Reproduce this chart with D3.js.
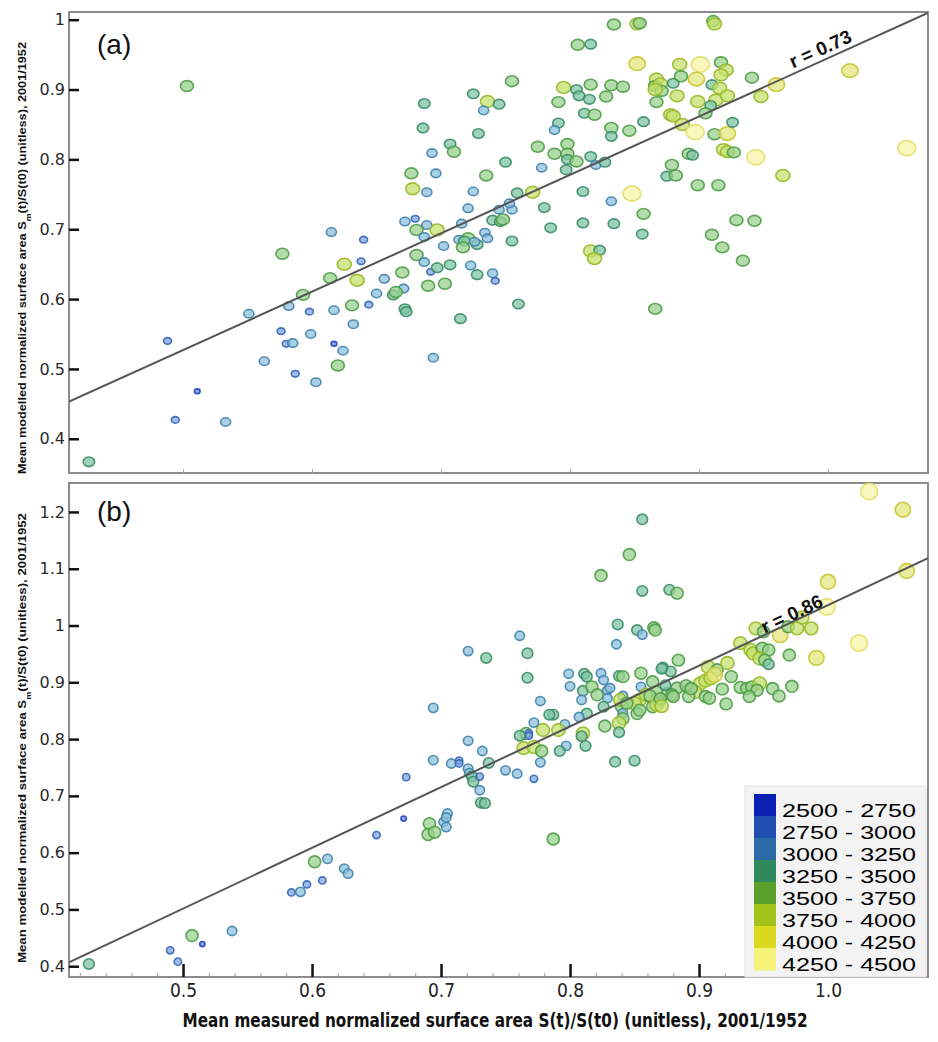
<!DOCTYPE html>
<html>
<head>
<meta charset="utf-8">
<script src="https://cdn.jsdelivr.net/npm/d3@7"></script>
<style>
  body { margin: 0; background: #fff; }
</style>
</head>
<body>
<div id="chart"></div>
<script>
// Points: [mean measured S(t)/S(t0), mean modelled Sm(t)/S(t0), elevation band index]
var pointsA = [
  [0.503,0.905,4],[0.687,0.880,3],[0.686,0.845,3],[0.707,0.822,3],[0.710,0.811,4],[0.693,0.809,2],
  [0.696,0.780,2],[0.677,0.780,4],[0.678,0.758,5],[0.689,0.753,2],[0.672,0.711,2],[0.680,0.715,1],
  [0.689,0.706,2],[0.681,0.699,4],[0.687,0.689,2],[0.697,0.699,5],[0.615,0.696,2],[0.640,0.685,1],
  [0.638,0.654,1],[0.577,0.665,4],[0.625,0.650,5],[0.614,0.630,4],[0.635,0.627,5],[0.656,0.629,2],
  [0.670,0.638,4],[0.681,0.663,4],[0.687,0.653,2],[0.692,0.639,1],[0.697,0.645,3],[0.707,0.649,3],
  [0.702,0.676,2],[0.690,0.619,4],[0.703,0.622,4],[0.671,0.615,2],[0.663,0.606,3],[0.665,0.610,4],
  [0.650,0.608,2],[0.672,0.586,3],[0.673,0.582,3],[0.631,0.591,4],[0.644,0.592,1],[0.593,0.606,4],
  [0.582,0.590,2],[0.598,0.582,1],[0.617,0.584,2],[0.551,0.579,2],[0.576,0.554,1],[0.599,0.550,2],
  [0.632,0.564,2],[0.580,0.536,1],[0.585,0.537,2],[0.617,0.536,0],[0.624,0.526,2],[0.563,0.511,2],
  [0.620,0.505,4],[0.587,0.493,1],[0.603,0.481,2],[0.715,0.572,3],[0.694,0.516,2],[0.488,0.540,1],
  [0.511,0.468,0],[0.494,0.427,1],[0.533,0.424,2],[0.427,0.367,3],
  [0.834,0.993,4],[0.852,0.994,5],[0.854,0.995,4],[0.806,0.964,4],[0.816,0.965,3],[0.852,0.937,6],
  [0.755,0.912,4],[0.725,0.894,3],[0.736,0.883,5],[0.745,0.879,3],[0.733,0.870,2],[0.795,0.903,5],
  [0.805,0.900,3],[0.807,0.891,3],[0.815,0.886,3],[0.816,0.907,4],[0.832,0.906,4],[0.841,0.904,4],
  [0.828,0.890,4],[0.791,0.882,4],[0.811,0.866,3],[0.819,0.864,4],[0.791,0.852,3],[0.788,0.842,2],
  [0.832,0.845,4],[0.832,0.833,3],[0.846,0.841,4],[0.857,0.854,3],[0.729,0.837,3],[0.750,0.796,3],
  [0.775,0.818,4],[0.788,0.808,4],[0.798,0.822,4],[0.798,0.808,4],[0.798,0.800,3],[0.805,0.797,4],
  [0.797,0.785,3],[0.778,0.788,2],[0.816,0.804,3],[0.820,0.792,2],[0.827,0.796,3],[0.735,0.777,4],
  [0.725,0.754,2],[0.759,0.752,3],[0.771,0.753,5],[0.810,0.754,3],[0.832,0.740,2],[0.848,0.751,7],
  [0.857,0.722,4],[0.856,0.693,3],[0.866,0.586,4],[0.780,0.731,3],[0.721,0.730,2],[0.745,0.728,2],
  [0.755,0.728,2],[0.753,0.737,2],[0.740,0.713,3],[0.746,0.711,3],[0.748,0.714,4],[0.785,0.702,3],
  [0.810,0.709,3],[0.834,0.708,3],[0.716,0.708,2],[0.714,0.685,2],[0.721,0.687,4],[0.718,0.683,3],
  [0.717,0.674,4],[0.728,0.678,3],[0.726,0.682,2],[0.734,0.695,2],[0.736,0.687,2],[0.755,0.683,3],
  [0.816,0.669,5],[0.823,0.670,3],[0.819,0.658,5],[0.723,0.648,2],[0.728,0.635,3],[0.740,0.637,2],
  [0.742,0.626,1],[0.760,0.593,3],
  [0.911,0.998,4],[0.912,0.994,5],[0.885,0.936,5],[0.901,0.936,7],[0.917,0.939,4],[0.921,0.928,5],
  [0.917,0.921,5],[0.941,0.917,4],[0.960,0.907,6],[1.017,0.927,6],[1.061,0.816,7],[0.867,0.915,5],
  [0.866,0.905,4],[0.870,0.908,5],[0.871,0.898,4],[0.866,0.900,5],[0.880,0.909,3],[0.886,0.919,4],
  [0.898,0.915,6],[0.910,0.907,3],[0.916,0.902,5],[0.883,0.891,5],[0.867,0.882,4],[0.899,0.883,5],
  [0.913,0.885,5],[0.922,0.891,5],[0.948,0.890,5],[0.909,0.877,3],[0.905,0.866,4],[0.878,0.864,5],
  [0.880,0.862,5],[0.887,0.850,5],[0.897,0.839,7],[0.912,0.836,4],[0.922,0.837,6],[0.926,0.853,3],
  [0.892,0.808,4],[0.895,0.806,3],[0.919,0.814,5],[0.922,0.811,5],[0.927,0.810,4],[0.944,0.803,7],
  [0.879,0.792,4],[0.875,0.776,3],[0.882,0.777,4],[0.965,0.777,5],[0.899,0.763,4],[0.915,0.763,4],
  [0.929,0.713,4],[0.943,0.712,4],[0.910,0.692,4],[0.918,0.674,4],[0.934,0.655,4]
];

var pointsB = [
  [0.427,0.404,3],[0.490,0.428,1],[0.496,0.408,1],[0.507,0.454,4],[0.515,0.439,0],[0.538,0.462,2],
  [0.584,0.530,1],[0.591,0.531,2],[0.596,0.544,1],[0.602,0.584,4],[0.612,0.589,2],[0.608,0.551,1],
  [0.625,0.572,2],[0.628,0.563,2],[0.650,0.631,1],
  [0.694,0.855,2],[0.694,0.763,2],[0.673,0.733,1],[0.671,0.660,0],[0.691,0.651,4],[0.690,0.632,4],
  [0.695,0.636,4],[0.702,0.654,2],[0.705,0.669,2],[0.704,0.662,2],[0.704,0.645,2],[0.708,0.757,2],
  [0.714,0.762,1],[0.721,0.955,2],[0.721,0.797,2],[0.721,0.748,2],
  [0.824,1.088,4],[0.837,1.002,3],[0.836,0.967,2],[0.761,0.982,2],[0.735,0.943,3],[0.767,0.951,3],
  [0.767,0.908,3],[0.777,0.867,2],[0.799,0.915,2],[0.800,0.893,2],[0.811,0.915,3],[0.813,0.910,3],
  [0.810,0.885,3],[0.817,0.892,4],[0.821,0.878,4],[0.824,0.916,2],[0.826,0.904,2],[0.829,0.886,2],
  [0.831,0.890,2],[0.829,0.872,2],[0.826,0.857,3],[0.838,0.911,3],[0.841,0.910,4],[0.841,0.876,2],
  [0.840,0.857,4],[0.839,0.869,5],[0.841,0.846,2],[0.841,0.836,4],[0.838,0.828,5],[0.838,0.812,3],
  [0.809,0.869,2],[0.813,0.845,3],[0.807,0.839,2],[0.787,0.843,3],[0.796,0.826,2],[0.779,0.816,5],
  [0.791,0.816,5],[0.810,0.810,5],[0.809,0.805,3],[0.812,0.788,3],[0.827,0.823,4],[0.797,0.788,2],
  [0.792,0.779,3],[0.772,0.829,2],[0.766,0.810,4],[0.768,0.810,1],[0.768,0.806,1],[0.761,0.806,3],
  [0.764,0.784,5],[0.772,0.786,5],[0.778,0.779,4],[0.777,0.759,2],[0.835,0.760,3],[0.714,0.757,1],
  [0.732,0.779,2],[0.722,0.740,2],[0.724,0.734,3],[0.725,0.725,3],[0.730,0.734,1],[0.730,0.710,2],
  [0.731,0.688,3],[0.734,0.687,3],[0.737,0.758,3],[0.750,0.745,2],[0.759,0.739,2],[0.772,0.730,1],
  [0.856,1.061,3],[0.877,1.063,3],[0.883,1.057,4],[1.000,1.077,6],[1.061,1.096,6],[0.999,1.033,7],
  [1.024,0.969,7],[0.991,0.943,6],[0.970,0.948,4],[0.944,0.995,5],[0.950,0.989,4],[0.963,0.983,6],
  [0.969,0.998,4],[0.976,0.995,5],[0.987,0.995,5],[0.980,1.014,5],[0.932,0.969,5],[0.940,0.957,5],
  [0.942,0.951,5],[0.949,0.960,4],[0.954,0.957,4],[0.947,0.942,5],[0.951,0.939,4],[0.954,0.932,3],
  [0.884,0.939,4],[0.872,0.926,3],[0.878,0.919,3],[0.855,0.916,4],[0.907,0.927,5],[0.914,0.922,4],
  [0.922,0.934,5],[0.925,0.910,4],[0.901,0.898,5],[0.905,0.903,5],[0.909,0.907,5],[0.912,0.913,6],
  [0.893,0.889,4],[0.897,0.883,5],[0.883,0.890,4],[0.875,0.880,4],[0.879,0.878,4],[0.880,0.875,4],
  [0.864,0.901,4],[0.855,0.892,2],[0.892,0.875,4],[0.905,0.875,4],[0.908,0.872,4],[0.918,0.888,4],
  [0.921,0.862,4],[0.932,0.891,4],[0.937,0.889,4],[0.941,0.892,4],[0.947,0.898,5],[0.945,0.886,4],
  [0.957,0.889,4],[0.962,0.876,4],[0.972,0.893,4],[0.864,0.857,4],[0.869,0.866,4],[0.854,0.869,5],
  [0.850,0.863,5],[0.844,0.863,4],[0.852,0.845,4],[0.854,0.851,4],[0.867,0.883,4],[0.874,0.895,3],
  [0.856,1.187,3],[0.846,1.125,4],[1.032,1.236,7],[1.058,1.204,6],[0.852,0.992,3],[0.856,0.984,2],
  [0.865,0.996,4],[0.866,0.992,4],[0.787,0.624,4],[0.850,0.762,3],[0.784,0.843,3],[0.859,0.878,5],
  [0.862,0.876,4],[0.867,0.860,5],[0.870,0.871,4],[0.871,0.858,5],[0.871,0.924,3],[0.890,0.894,4],
  [0.894,0.889,4],[0.939,0.875,4]
];

// Elevation bands (m)
var bandLabels = ['2500 - 2750', '2750 - 3000', '3000 - 3250', '3250 - 3500',
                  '3500 - 3750', '3750 - 4000', '4000 - 4250', '4250 - 4500'];
var bandColors = ['#0b1fb5', '#1f50b0', '#2d6ba8', '#2e8a5c', '#58a02a', '#a2c41a', '#d9d91e', '#f7f27a'];

// Regression lines [intercept, slope] and correlation labels
var fitA = [0.109, 0.836];
var fitB = [-0.033, 1.069];
var rLabelA = 'r = 0.73';
var rLabelB = 'r = 0.86';

// Ticks
var xTicks = [0.5, 0.6, 0.7, 0.8, 0.9, 1.0];
var yTicksA = [0.4, 0.5, 0.6, 0.7, 0.8, 0.9, 1];
var yTicksB = [0.4, 0.5, 0.6, 0.7, 0.8, 0.9, 1, 1.1, 1.2];

var xTitle = 'Mean measured normalized surface area S(t)/S(t0) (unitless), 2001/1952';

// ---- drawing ----
var svgWidth = 938, svgHeight = 1042;
var left = 69, right = 928;

var pointFill   = ['#6d8ae0', '#80a6dc', '#8cc0dc', '#80c4a4', '#98d08c', '#c6e06c', '#e6e67e', '#f8f4a6'];
var pointStroke = ['#2242c0', '#3464b8', '#3f82aa', '#3a8c66', '#4e9c46', '#98b82a', '#c6c634', '#e2de6a'];
var radius = [2.6, 3.6, 4.6, 5.2, 5.9, 6.4, 7.4, 8.2];

var svg = d3.select('#chart')
  .append('svg')
  .attr('width', svgWidth)
  .attr('height', svgHeight)
  .style('font-family', '"Liberation Sans", Arial, sans-serif');

var x = d3.scaleLinear().domain([0.4116, 1.0775]).range([left, right]);

var fmtY = function(d) { return d === 1 ? '1' : d3.format('.1f')(d); };

function drawPanel(cfg) {
  var y = d3.scaleLinear().domain(cfg.domain).range([cfg.bottom, cfg.top]);
  var g = svg.append('g');

  g.append('clipPath').attr('id', cfg.id + '-clip')
    .append('rect')
    .attr('x', left).attr('y', cfg.top)
    .attr('width', right - left).attr('height', cfg.bottom - cfg.top);

  // frame
  g.append('rect')
    .attr('x', left).attr('y', cfg.top)
    .attr('width', right - left).attr('height', cfg.bottom - cfg.top)
    .attr('fill', 'none')
    .attr('stroke', '#8c8c8c')
    .attr('stroke-width', 2);

  // y axis
  var yAxis = g.append('g')
    .attr('transform', 'translate(' + left + ',0)')
    .call(d3.axisLeft(y).tickValues(cfg.yTicks).tickSize(-10).tickPadding(4).tickFormat(fmtY));
  yAxis.select('.domain').remove();
  yAxis.selectAll('line').attr('stroke', '#111').attr('stroke-width', 2.5);
  yAxis.selectAll('text')
    .attr('fill', '#2a2a2a')
    .style('font-family', '"DejaVu Sans", sans-serif')
    .style('font-size', '16px');

  // y title
  var yt = g.append('text')
    .attr('transform', 'translate(26,' + cfg.titleY + ') rotate(-90)')
    .attr('text-anchor', 'middle')
    .attr('textLength', cfg.titleLen)
    .attr('lengthAdjust', 'spacingAndGlyphs')
    .style('font-size', '11.5px')
    .style('font-weight', 'bold')
    .attr('fill', '#111');
  yt.append('tspan').text('Mean modelled normalized surface area S');
  yt.append('tspan').attr('baseline-shift', 'sub').style('font-size', '8px').text('m');
  yt.append('tspan').attr('baseline-shift', '0').text('(t)/S(t0) (unitless), 2001/1952');

  // points
  g.append('g')
    .attr('clip-path', 'url(#' + cfg.id + '-clip)')
    .selectAll('ellipse')
    .data(cfg.points)
    .join('ellipse')
    .attr('cx', d => x(d[0]))
    .attr('cy', d => y(d[1]))
    .attr('rx', d => radius[d[2]] * cfg.sx)
    .attr('ry', d => radius[d[2]] * cfg.sy)
    .attr('fill', d => pointFill[d[2]])
    .attr('fill-opacity', 0.75)
    .attr('stroke', d => pointStroke[d[2]])
    .attr('stroke-opacity', 0.9)
    .attr('stroke-width', 1.6);

  // regression line
  var x0 = x.domain()[0], x1 = x.domain()[1];
  var line = d3.line().x(d => x(d)).y(d => y(cfg.fit[0] + cfg.fit[1] * d));
  g.append('path')
    .attr('clip-path', 'url(#' + cfg.id + '-clip)')
    .datum([x0, x1])
    .attr('d', line)
    .attr('fill', 'none')
    .attr('stroke', '#555')
    .attr('stroke-width', 2);

  // r label along the line
  var angle = Math.atan2(y(cfg.fit[0] + cfg.fit[1] * x1) - y(cfg.fit[0] + cfg.fit[1] * x0), x(x1) - x(x0)) * 180 / Math.PI;
  var lx = cfg.rAt;
  g.append('text')
    .attr('transform', 'translate(' + x(lx) + ',' + y(cfg.fit[0] + cfg.fit[1] * lx) + ') rotate(' + angle + ') translate(0,' + cfg.rOffset + ')')
    .style('font-size', '19px')
    .style('font-weight', 'bold')
    .attr('fill', '#111')
    .text(cfg.rLabel);

  // panel tag
  g.append('text')
    .attr('x', 97).attr('y', cfg.tagY)
    .style('font-size', '28px')
    .attr('fill', '#111')
    .text(cfg.tag);

  return { g: g, y: y };
}

var panelA = drawPanel({
  id: 'pa', points: pointsA, domain: [0.351, 1.011], top: 12, bottom: 473,
  yTicks: yTicksA, fit: fitA, rLabel: rLabelA, rAt: 0.9744, rOffset: -5,
  tag: '(a)', tagY: 54, titleY: 258, titleLen: 432, sx: 1.1, sy: 0.92
});

var panelB = drawPanel({
  id: 'pb', points: pointsB, domain: [0.381, 1.251], top: 483, bottom: 977,
  yTicks: yTicksB, fit: fitB, rLabel: rLabelB, rAt: 0.9512, rOffset: -1,
  tag: '(b)', tagY: 521, titleY: 738, titleLen: 450, sx: 1.03, sy: 1
});

// small ticks on the bottom of panel (a)
var axA = svg.append('g')
  .attr('transform', 'translate(0,473)')
  .call(d3.axisBottom(x).tickValues(xTicks).tickSize(-4).tickFormat(''));
axA.select('.domain').remove();
axA.selectAll('line').attr('stroke', '#aaa').attr('stroke-width', 1);

// x axis of panel (b): minor and major ticks
var minorTicks = d3.range(21, 54).map(d => d / 50);
var axMinor = svg.append('g')
  .attr('transform', 'translate(0,977)')
  .call(d3.axisBottom(x).tickValues(minorTicks).tickSize(-4).tickFormat(''));
axMinor.select('.domain').remove();
axMinor.selectAll('line').attr('stroke', '#999').attr('stroke-width', 1);

var axB = svg.append('g')
  .attr('transform', 'translate(0,977)')
  .call(d3.axisBottom(x).tickValues(xTicks).tickSize(-13).tickPadding(7).tickFormat(d3.format('.1f')));
axB.select('.domain').remove();
axB.selectAll('line').attr('stroke', '#111').attr('stroke-width', 2.5);
axB.selectAll('text')
  .attr('fill', '#222')
  .style('font-family', '"Liberation Sans Narrow", "DejaVu Sans Condensed", "Liberation Sans", sans-serif')
  .style('font-size', '19px');

// x title
svg.append('text')
  .attr('x', 495).attr('y', 1027)
  .attr('text-anchor', 'middle')
  .attr('textLength', 625)
  .attr('lengthAdjust', 'spacingAndGlyphs')
  .style('font-family', '"Liberation Sans Narrow", "DejaVu Sans Condensed", "Liberation Sans", sans-serif')
  .style('font-size', '20px')
  .style('font-weight', 'bold')
  .attr('fill', '#111')
  .text(xTitle);

// legend
var legend = svg.append('g').attr('transform', 'translate(745,786)');
legend.append('rect')
  .attr('width', 181).attr('height', 191)
  .attr('fill', '#f3f3f3')
  .attr('stroke', '#e2e2e2');
legend.selectAll('rect.sw')
  .data(bandColors)
  .join('rect')
  .attr('class', 'sw')
  .attr('x', 9).attr('y', (d, i) => 8 + i * 22)
  .attr('width', 22).attr('height', 22.5)
  .attr('fill', d => d);
legend.selectAll('text')
  .data(bandLabels)
  .join('text')
  .attr('x', 37).attr('y', (d, i) => 26 + i * 22)
  .attr('dominant-baseline', 'middle')
  .attr('textLength', 134)
  .attr('lengthAdjust', 'spacingAndGlyphs')
  .style('font-size', '19px')
  .attr('fill', '#000')
  .text(d => d);
</script>
</body>
</html>
